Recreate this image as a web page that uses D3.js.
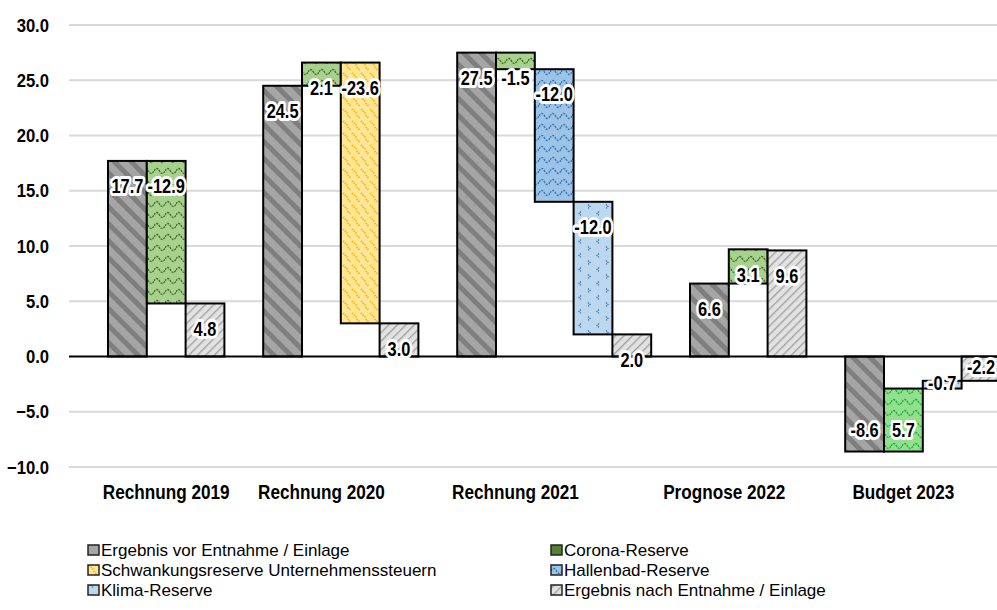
<!DOCTYPE html>
<html><head><meta charset="utf-8">
<script src="https://cdn.jsdelivr.net/npm/d3@7"></script>
<style>body{margin:0;background:#fff}svg{display:block}</style>
</head><body>
<svg id="chart" width="997" height="610"></svg>
<script>
// ---------- data ----------
const groups = ["Rechnung 2019", "Rechnung 2020", "Rechnung 2021", "Prognose 2022", "Budget 2023"];
const seriesNames = [
  "Ergebnis vor Entnahme / Einlage",
  "Corona-Reserve",
  "Schwankungsreserve Unternehmenssteuern",
  "Hallenbad-Reserve",
  "Klima-Reserve",
  "Ergebnis nach Entnahme / Einlage"
];
// series used in each group (index into seriesNames), in bar order
const groupSeries = [[0, 1, 5], [0, 1, 2, 5], [0, 1, 3, 4, 5], [0, 1, 5], [0, 1, 4, 5]];
// waterfall step values per group (first and last start at zero)
const groupValues = [
  [17.7, -12.9, 4.8],
  [24.5, 2.1, -23.6, 3.0],
  [27.5, -1.5, -12.0, -12.0, 2.0],
  [6.6, 3.1, 9.6],
  [-8.6, 5.7, 0.7, -2.2]
];
// data label texts as printed in the chart
const groupLabels = [
  ["17.7", "-12.9", "4.8"],
  ["24.5", "2.1", "-23.6", "3.0"],
  ["27.5", "-1.5", "-12.0", "-12.0", "2.0"],
  ["6.6", "3.1", "9.6"],
  ["-8.6", "5.7", "-0.7", "-2.2"]
];
const yTicks = [-10, -5, 0, 5, 10, 15, 20, 25, 30];
const legendOrder = [0, 1, 2, 3, 4, 5];

// ---------- layout ----------
const svg = d3.select("#chart");
const W = 997, H = 610;
const plotLeft = 69;

// build slot list: each bar takes a slot, one empty slot between groups
const bars = [];
let slot = 0;
groups.forEach((g, gi) => {
  let run = 0;
  groupSeries[gi].forEach((s, k) => {
    const v = groupValues[gi][k];
    let lo, hi;
    if (k === 0 || s === 5) { lo = Math.min(0, v); hi = Math.max(0, v); run = v; }
    else { const nr = run + v; lo = Math.min(run, nr); hi = Math.max(run, nr); run = nr; }
    bars.push({group: g, gi, k, series: s, value: v, lo, hi, label: groupLabels[gi][k], slot});
    slot++;
  });
  slot++;
});
const nSlots = slot - 1;

const x = d3.scaleBand().domain(d3.range(nSlots)).range([108, 1000.4]).padding(0);
const y = d3.scaleLinear().domain([-10, 30]).range([467, 25]);

// ---------- patterns ----------
const defs = svg.append("defs");
function pat(id, w, h, bg, draw, transform) {
  const p = defs.append("pattern").attr("id", id).attr("patternUnits", "userSpaceOnUse")
    .attr("width", w).attr("height", h);
  if (transform) p.attr("patternTransform", transform);
  p.append("rect").attr("width", w).attr("height", h).attr("fill", bg);
  draw(p);
}
// Ergebnis vor: wide downward diagonal
pat("p0", 12, 12, "#a5a5a5", p => p.append("rect").attr("x", 0).attr("y", 0).attr("width", 5).attr("height", 12).attr("fill", "#7f7f7f"), "rotate(-45)");
// Corona: wave
function wave(p, col, w, sw, dash) {
  const path = p.append("path").attr("d", `M0,6 Q${w/4},1 ${w/2},6 T${w},6`)
    .attr("fill", "none").attr("stroke", col).attr("stroke-width", sw);
  if (dash) path.attr("stroke-dasharray", dash);
}
pat("p1", 11, 11, "#a9d18e", p => wave(p, "#3f6b27", 11, 1.3, "2.2,1"));
pat("p1b", 11, 11, "#92df8c", p => wave(p, "#10b040", 11, 1.3, "2.2,1"));
// Schwankung: dashed diagonal marks
pat("p2", 9, 12, "#ffe699", p => {
  p.append("path").attr("d", "M1,1 L6,6").attr("stroke", "#ffc000").attr("stroke-width", 2).attr("stroke-dasharray", "1.6,0.8");
  p.append("path").attr("d", "M5.5,7 L9,10.5").attr("stroke", "#ffc000").attr("stroke-width", 2).attr("stroke-dasharray", "1.6,0.8");
});
// Hallenbad: wave
pat("p3", 11, 11, "#9dc3e6", p => wave(p, "#2e75b6", 11, 1.3, "2,1.3"));
// Klima: chevron confetti
pat("p4", 18, 14, "#bdd7ee", p => {
  p.append("path").attr("d", "M5,1.5 L3,3.5 L5,5.5").attr("fill", "none").attr("stroke", "#2e75b6").attr("stroke-width", 1.3).attr("stroke-dasharray", "1.3,0.8");
  p.append("path").attr("d", "M12,8.5 L14,10.5 L12,12.5").attr("fill", "none").attr("stroke", "#2e75b6").attr("stroke-width", 1.3).attr("stroke-dasharray", "1.3,0.8");
});
// Ergebnis nach: thin dashed upward diagonal
pat("p5", 6, 6, "#e2e2e2", p => p.append("rect").attr("x", 0).attr("y", 0).attr("width", 1.3).attr("height", 6).attr("fill", "#9f9f9f"), "rotate(45)");

const fills = ["url(#p0)", "url(#p1)", "url(#p2)", "url(#p3)", "url(#p4)", "url(#p5)"];
const legendFills = ["#a5a5a5", "#548235", "url(#p2)", "url(#p3)", "url(#p4)", "url(#p5)"];

// ---------- grid ----------
svg.append("g").selectAll("line").data(yTicks.filter(t => t !== 0)).join("line")
  .attr("x1", plotLeft).attr("x2", W).attr("y1", d => y(d)).attr("y2", d => y(d))
  .attr("stroke", "#d9d9d9").attr("stroke-width", 2);

// y axis labels
svg.append("g").selectAll("text").data(yTicks).join("text")
  .attr("transform", d => `translate(49,${y(d)}) scale(0.9,1)`)
  .attr("text-anchor", "end").attr("dy", "0.36em")
  .attr("font-family", "Liberation Sans, Arial, sans-serif").attr("font-weight", "bold")
  .attr("font-size", 18.5).attr("fill", "#000")
  .text(d => d3.format(".1f")(d));

// ---------- bars ----------
svg.append("g").selectAll("rect").data(bars).join("rect")
  .attr("x", d => x(d.slot)).attr("width", x.bandwidth())
  .attr("y", d => y(d.hi)).attr("height", d => y(d.lo) - y(d.hi))
  .attr("fill", d => (d.gi === 4 && d.series === 1) ? "url(#p1b)" : fills[d.series])
  .attr("stroke", "#000").attr("stroke-width", 2);

// zero line
svg.append("line").attr("x1", plotLeft).attr("x2", W).attr("y1", y(0)).attr("y2", y(0))
  .attr("stroke", "#000").attr("stroke-width", 2.2);

// ---------- data labels ----------
function labelY(d) {
  const top = y(d.hi), bot = y(d.lo);
  if (d.lo >= 0) return top + 25;
  if (bot - top < 30) return (top + bot) / 2 - 2;
  return bot - 21.5;
}
const lab = svg.append("g").selectAll("g").data(bars).join("g")
  .attr("transform", d => `translate(${x(d.slot) + x.bandwidth() / 2},${labelY(d)}) scale(0.82,1)`);
lab.append("text").attr("text-anchor", "middle").attr("dy", "0.36em")
  .attr("font-family", "Liberation Sans, Arial, sans-serif").attr("font-weight", "bold").attr("font-size", 20)
  .attr("fill", "#000").attr("stroke", "#fff").attr("stroke-width", 6).attr("stroke-linejoin", "round")
  .attr("paint-order", "stroke")
  .text(d => d.label);

// ---------- category labels ----------
const catShift = {"Prognose 2022": -24};
const catData = groups.map((g, gi) => ({g, slot: bars.find(b => b.gi === gi && b.k === 1).slot}));
svg.append("g").selectAll("text").data(catData).join("text")
  .attr("transform", d => `translate(${x(d.slot) + x.bandwidth() / 2 + (catShift[d.g] || 0)},499) scale(0.88,1)`)
  .attr("text-anchor", "middle")
  .attr("font-family", "Liberation Sans, Arial, sans-serif").attr("font-weight", "bold").attr("font-size", 19.5)
  .attr("fill", "#000").text(d => d.g);

// ---------- legend ----------
const legCols = [88, 551];
const legRows = [556, 576, 596];
const leg = svg.append("g").selectAll("g").data(legendOrder).join("g")
  .attr("transform", (d, i) => `translate(${legCols[i % 2]},${legRows[Math.floor(i / 2)]})`);
leg.append("rect").attr("x", 0).attr("y", -11).attr("width", 11).attr("height", 10)
  .attr("fill", d => legendFills[d]).attr("stroke", "#222").attr("stroke-width", 1.5);
leg.append("text").attr("x", 13)
  .attr("font-family", "Liberation Sans, Arial, sans-serif").attr("font-size", 17).attr("fill", "#000")
  .text(d => seriesNames[d]);
</script>
</body></html>
